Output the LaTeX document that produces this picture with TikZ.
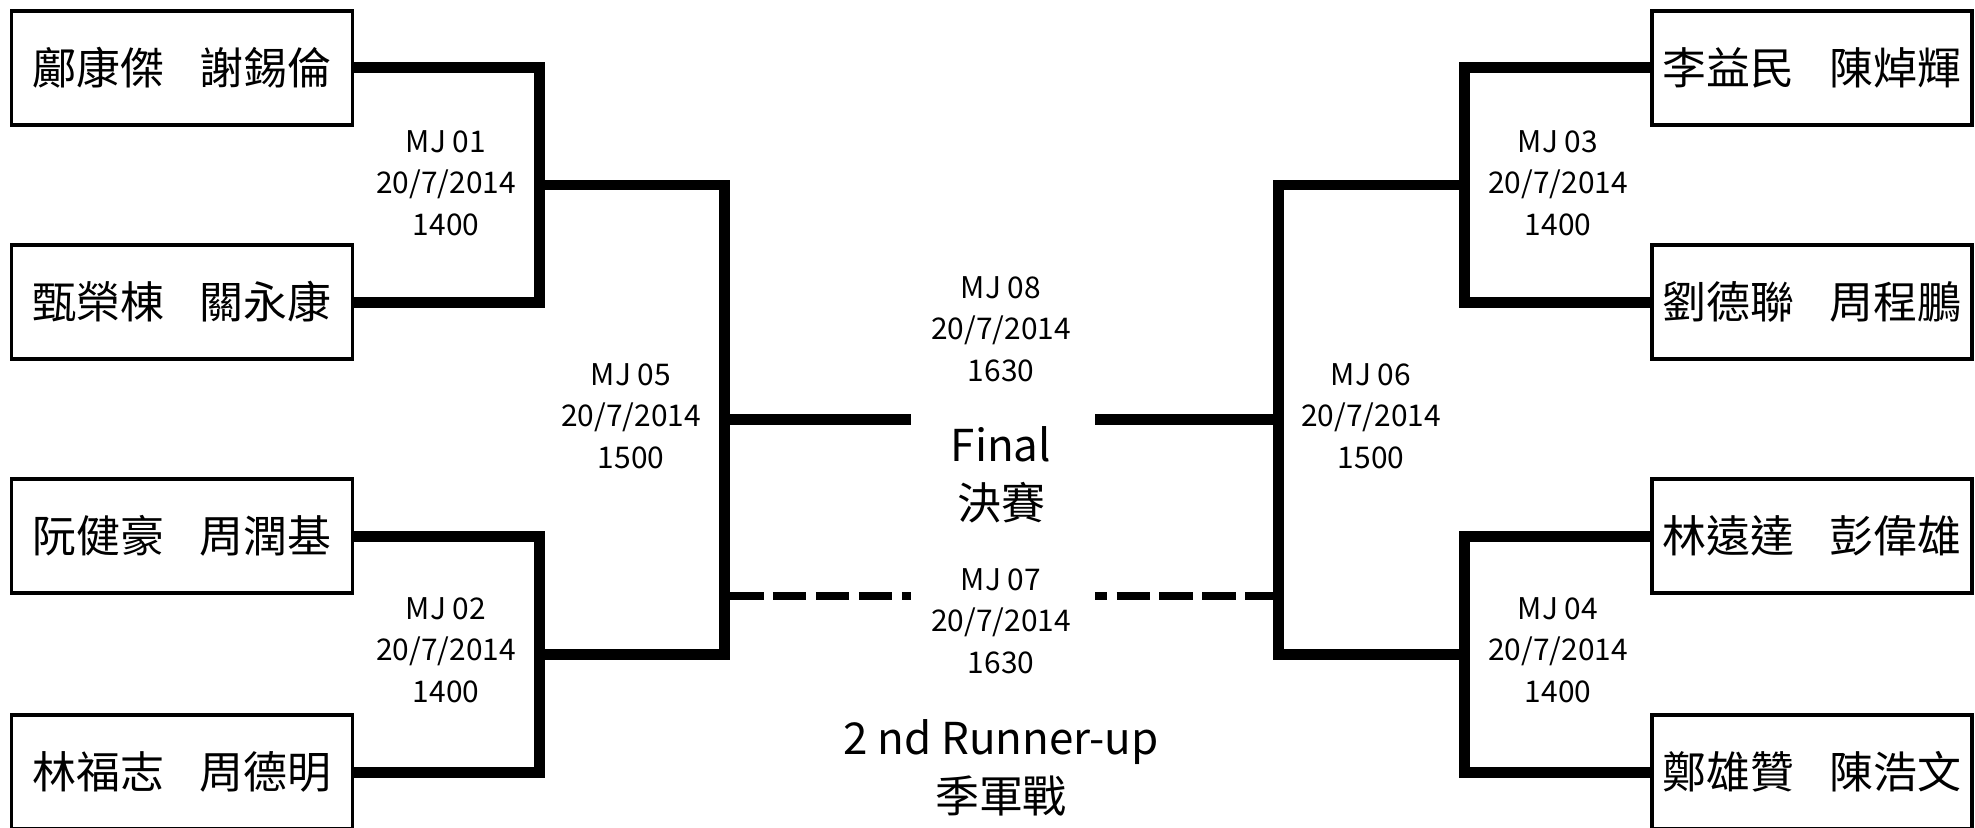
\documentclass[tikz,border=0pt]{standalone}
\usepackage{fontspec}
\setmainfont{Noto Sans CJK TC}
\usepackage{tikz}
\usetikzlibrary{calc}

\newcommand{\namegap}{\hspace{0.8em}}

\tikzset{
  pairbox/.style={draw, line width=0.07cm, minimum width=6.83cm, minimum height=2.28cm, inner sep=0pt, font=\fontsize{25}{30}\selectfont},
  bracket/.style={line width=0.22cm},
  thirdline/.style={line width=0.15cm, dash pattern=on 0.67cm off 0.19cm},
  matchinfo/.style={align=center, font=\fontsize{17}{23.6}\selectfont},
  roundname/.style={align=center, font=\fontsize{25}{33}\selectfont}
}

\begin{document}
\begin{tikzpicture}[x=0.02cm, y=-0.02cm]
  \useasboundingbox (0,0) rectangle (1975,828);
  \clip (0,0) rectangle (1975,828);

  \foreach \n/\y/\who in {p1/68/{鄺康傑\namegap 謝錫倫}, p2/302/{甄榮棟\namegap 關永康}, p3/536/{阮健豪\namegap 周潤基}, p4/772/{林福志\namegap 周德明}} {
    \node[pairbox] (\n) at (182,\y) {\who};
  }
  \foreach \n/\y/\who in {p5/68/{李益民\namegap 陳焯輝}, p6/302/{劉德聯\namegap 周程鵬}, p7/536/{林遠達\namegap 彭偉雄}, p8/772/{鄭雄贊\namegap 陳浩文}} {
    \node[pairbox, minimum width=6.4cm] (\n) at (1812,\y) {\who};
  }

  \coordinate (j1) at (539,185);
  \coordinate (j2) at (539,654);
  \coordinate (j3) at (1464,185);
  \coordinate (j4) at (1464,654);
  \coordinate (k1) at (724.5,419.5);
  \coordinate (k2) at (1278,419.5);
  \coordinate (fL) at (911,419.5);
  \coordinate (fR) at (1095,419.5);
  \coordinate (tL) at (911,596);
  \coordinate (tR) at (1095,596);

  \draw[bracket] (p1.east) -| (j1) |- (p2.east);
  \draw[bracket] (p3.east) -| (j2) |- (p4.east);
  \draw[bracket] (p5.west) -| (j3) |- (p6.west);
  \draw[bracket] (p7.west) -| (j4) |- (p8.west);
  \draw[bracket] (j1) -| (k1) |- (j2);
  \draw[bracket] (j3) -| (k2) |- (j4);
  \draw[bracket] (k1) -- (fL);
  \draw[bracket] (k2) -- (fR);
  \draw[thirdline, dash phase=0.75cm] (k1 |- tL) -- (tL);
  \draw[thirdline, dash phase=0.43cm] (tR) -- (k2 |- tR);

  \node[matchinfo] (mj01) at (446,183) {MJ 01\\20/7/2014\\1400};
  \node[matchinfo] (mj02) at (446,650) {MJ 02\\20/7/2014\\1400};
  \node[matchinfo] (mj03) at (1558,183) {MJ 03\\20/7/2014\\1400};
  \node[matchinfo] (mj04) at (1558,650) {MJ 04\\20/7/2014\\1400};
  \node[matchinfo] (mj05) at (631,416) {MJ 05\\20/7/2014\\1500};
  \node[matchinfo] (mj06) at (1371,416) {MJ 06\\20/7/2014\\1500};
  \node[matchinfo] (mj08) at (1001,329) {MJ 08\\20/7/2014\\1630};
  \node[matchinfo] (mj07) at (1001,621) {MJ 07\\20/7/2014\\1630};

  \node[roundname] (final) at (1001,475) {Final\\決賽};
  \node[roundname] (third) at (1001,768) {2 nd Runner-up\\季軍戰};
\end{tikzpicture}
\end{document}
